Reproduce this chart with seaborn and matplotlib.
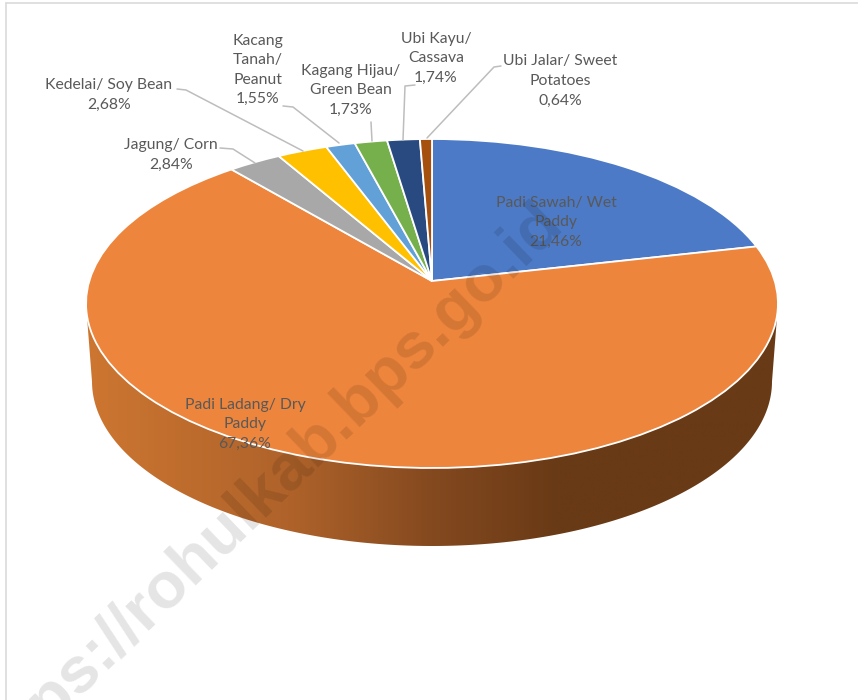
import matplotlib
matplotlib.use("Agg")

import matplotlib.pyplot as plt
import numpy as np
import seaborn as sns
from matplotlib.colors import LinearSegmentedColormap
from matplotlib.patches import Polygon
from matplotlib.transforms import Transform

VALUES = [21.46, 67.36, 2.84, 2.68, 1.55, 1.73, 1.74, 0.64]
LABELS = [
    "Padi Sawah/ Wet\nPaddy\n21,46%",
    "Padi Ladang/ Dry\nPaddy\n67,36%",
    "Jagung/ Corn\n2,84%",
    "Kedelai/ Soy Bean\n2,68%",
    "Kacang\nTanah/\nPeanut\n1,55%",
    "Kagang Hijau/\nGreen Bean\n1,73%",
    "Ubi Kayu/\nCassava\n1,74%",
    "Ubi Jalar/ Sweet\nPotatoes\n0,64%",
]
COLORS = ["#4C7AC6", "#ED853C", "#A8A8A8", "#FFC000", "#62A0D8", "#75B04C", "#284A80", "#A5500F"]
LABEL_POS = [
    (556, 222), (245, 424), (171, 155), (109, 95),
    (258, 70), (351, 90), (436, 58), (560, 81),
]
LEADERS = [
    [(220, 148), (233, 149), (255, 163)],
    [(177, 89), (186, 90), (303, 151)],
    [(283, 106), (293, 107), (339, 143)],
    [(371, 122), (372, 141)],
    [(415, 85), (405, 86), (403, 140)],
    [(501, 66), (494, 67), (427, 138)],
]
WALL_STOPS = [(0.0, "#CD7631"), (0.30, "#AE622A"), (0.50, "#84491F"), (0.68, "#693A16"), (1.0, "#693A16")]
WATERMARK = "https://rohulkab.bps.go.id"

# tilted disc: the apex sits above the middle of the ellipse
CX, APEX_Y, SCALE_X, SCALE_Y, TILT = 432, 281, 342.7, 161.4, 0.1368


class TiltedDisc(Transform):
    input_dims = 2
    output_dims = 2
    is_separable = False

    def transform_non_affine(self, values):
        values = np.asarray(values, dtype=float)
        w = 1 + TILT * values[:, 1]
        return np.column_stack([CX + SCALE_X * values[:, 0] / w, APEX_Y - SCALE_Y * values[:, 1] / w])


def draw_wall(ax):
    t = np.linspace(np.pi, 0, 200)
    arc = np.column_stack([432 + 340 * np.cos(t), 381.5 + 164.5 * np.sin(t)])
    outline = np.vstack([[(86, 304)], arc, [(778, 304)]])
    clip = Polygon(outline, closed=True, transform=ax.transData, facecolor="none", edgecolor="none")
    ax.add_patch(clip)
    cmap = LinearSegmentedColormap.from_list("wall", WALL_STOPS)
    img = ax.imshow(
        np.linspace(0, 1, 512).reshape(1, -1),
        cmap=cmap,
        extent=(86, 778, 560, 290),
        aspect="auto",
        zorder=1,
    )
    img.set_clip_path(clip)


def main():
    sns.set_theme(style="white")
    plt.rcParams["font.family"] = ["Lato", "DejaVu Sans"]

    fig = plt.figure(figsize=(8.58, 7.0), dpi=100)
    ax = fig.add_axes([0, 0, 1, 1])

    draw_wall(ax)

    wedges, _ = ax.pie(
        VALUES,
        colors=sns.color_palette(COLORS),
        startangle=90,
        counterclock=False,
        wedgeprops={"edgecolor": "white", "linewidth": 1.3, "zorder": 2},
    )
    disc = TiltedDisc() + ax.transData
    for wedge in wedges:
        wedge.set_transform(disc)
        wedge.set_zorder(2)

    ax.set_aspect("auto")
    ax.set_xlim(0, 858)
    ax.set_ylim(700, 0)
    ax.axis("off")

    # window border of the screenshot
    ax.plot([6, 6], [3, 700], color="#DADADA", lw=1.2, zorder=1)
    ax.plot([6, 858], [3, 3], color="#DADADA", lw=1.2, zorder=1)

    for pts in LEADERS:
        xs, ys = zip(*pts)
        ax.plot(xs, ys, color="#BDBDBD", lw=1.1, zorder=3)

    for label, (x, y) in zip(LABELS, LABEL_POS):
        ax.text(x, y, label, ha="center", va="center", fontsize=11.3, color="#595959", linespacing=1.5, zorder=4)

    ax.text(
        565, 225, WATERMARK,
        rotation=44, rotation_mode="anchor", ha="right", va="baseline",
        fontsize=47, fontweight="bold", family=["Liberation Sans", "DejaVu Sans"],
        color="black", alpha=0.105, zorder=5,
    )

    fig.savefig("out.png", dpi=100, facecolor="white")
    plt.close(fig)


if __name__ == "__main__":
    main()
